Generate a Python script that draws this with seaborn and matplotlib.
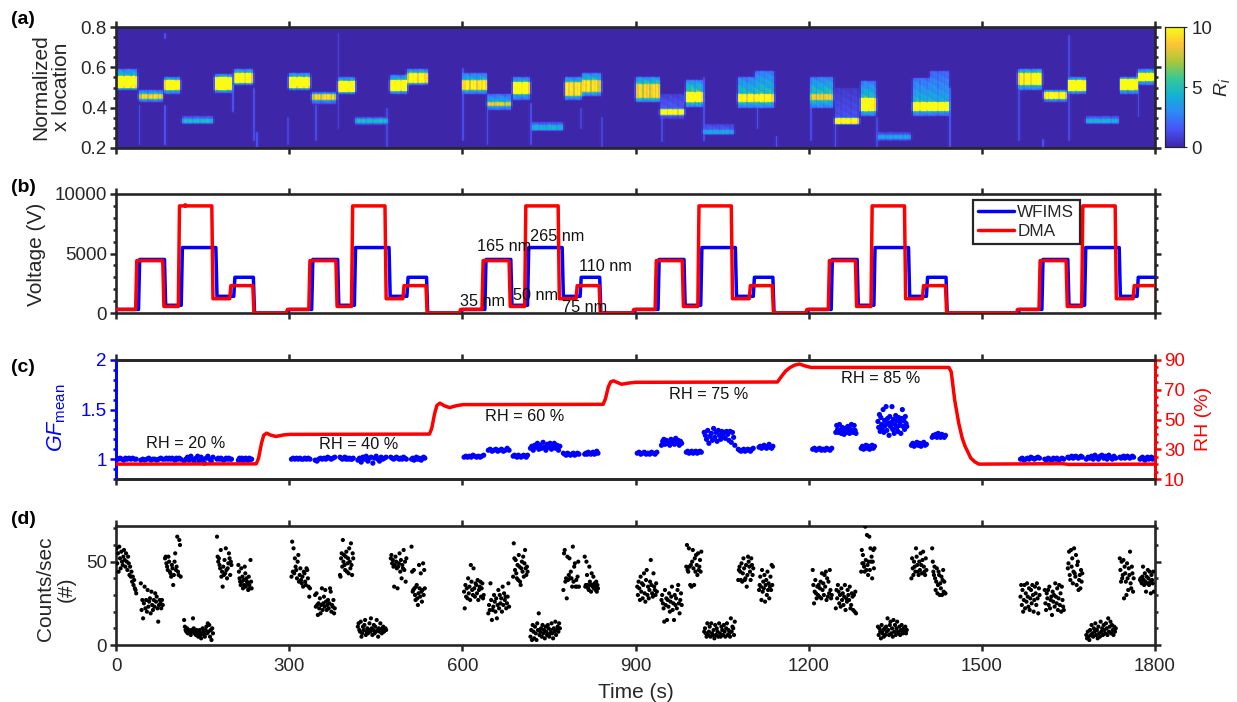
import numpy as np
import pandas as pd
import seaborn as sns
import matplotlib.pyplot as plt
from matplotlib.colors import LinearSegmentedColormap
from matplotlib.lines import Line2D

sns.set_theme(style='ticks')
plt.rcParams['font.family'] = ['Liberation Sans', 'DejaVu Sans']
plt.rcParams['mathtext.fontset'] = 'custom'
plt.rcParams['mathtext.rm'] = 'Liberation Sans'
plt.rcParams['mathtext.it'] = 'Liberation Sans:italic'

DARK = '#262626'
BLUE = '#0000ff'
RED = '#ff0000'

time_ticks = [0, 300, 600, 900, 1200, 1500, 1800]
cycle_start = [0, 300, 600, 900, 1200, 1565]

# (a) one row per cycle, six size steps in each
block_start = [0, 40, 84, 115, 172, 204,
               300, 341, 385, 416, 475, 506,
               601, 644, 687, 720, 777, 808,
               901, 944, 987, 1018, 1077, 1109,
               1203, 1245, 1290, 1320, 1380, 1410,
               1565, 1608, 1652, 1682, 1741, 1772]
block_end = [37, 81, 112, 170, 203, 238,
             338, 383, 415, 473, 505, 540,
             642, 685, 717, 774, 807, 841,
             942, 985, 1017, 1073, 1109, 1142,
             1244, 1287, 1318, 1378, 1410, 1444,
             1605, 1649, 1680, 1738, 1770, 1800]
band_lo = [.49, .43, .47, .32, .475, .51,
           .49, .42, .47, .315, .47, .51,
           .47, .39, .44, .285, .44, .46,
           .43, .345, .405, .265, .40, .40,
           .40, .32, .36, .235, .36, .36,
           .49, .43, .47, .32, .47, .51]
band_hi = [.59, .49, .55, .36, .565, .59,
           .57, .48, .55, .355, .56, .59,
           .57, .47, .55, .33, .55, .57,
           .55, .47, .535, .32, .55, .58,
           .55, .50, .53, .28, .545, .58,
           .59, .49, .55, .36, .55, .59]
core_lo = [.50, .445, .49, .325, .49, .52,
           .50, .44, .48, .325, .485, .52,
           .49, .41, .47, .29, .46, .48,
           .45, .365, .43, .27, .43, .43,
           .44, .32, .385, .245, .385, .385,
           .51, .445, .485, .325, .49, .53]
core_hi = [.55, .47, .53, .34, .545, .57,
           .545, .465, .525, .34, .53, .57,
           .53, .43, .52, .31, .52, .53,
           .51, .39, .48, .29, .465, .465,
           .47, .345, .445, .26, .43, .43,
           .57, .48, .53, .34, .535, .57]
block_peak = [14, 10, 14, 5.5, 14, 13,
              14, 10, 14, 5.5, 13.5, 12,
              11, 9.5, 13.5, 5, 10.5, 10.5,
              10, 12, 14, 4.5, 12, 12,
              9.5, 13, 14, 4.5, 13.5, 13.5,
              12, 12.5, 14, 5, 14, 14]
block_halo = [4.5, 3.5, 4, 2, 4, 4,
              4.5, 3, 4, 2, 4, 4,
              4, 3.5, 4, 2, 4, 4.5,
              5, 1.5, 5, 1.5, 4.5, 4.5,
              4.5, 1.2, 4.5, 1.5, 4, 3.5,
              4.5, 3.5, 4, 2, 4, 4]

# faint vertical streaks under the bands
streak_time = [39, 84, 84, 202, 237, 245, 299, 345, 385, 470, 600, 642, 717, 806, 842,
               945, 1017, 1110, 1144, 1203, 1245, 1246, 1318, 1445, 1565, 1605, 1650, 1770]
streak_lo = [.22, .22, .74, .38, .24, .21, .22, .24, .30, .21, .24, .22, .22, .30, .21,
             .23, .24, .30, .21, .24, .22, .21, .21, .21, .24, .21, .24, .36]
streak_hi = [.42, .42, .77, .51, .50, .28, .36, .42, .77, .40, .60, .40, .43, .40, .36,
             .43, .55, .44, .26, .50, .32, .28, .36, .50, .50, .25, .76, .50]
streak_val = [1.6, 1.8, 1.6, 1.8, 1.6, 1.8, 1.2, 1.5, 1.2, 1.4, 1.6, 1.7, 1.6, 1.2, 1.2,
              1.4, 1.6, 1.8, 2, 1.6, 2, 2, 1.4, 1.8, 1.4, 1.7, 1.4, 1.6]

pattern_cols = [1, .8, 1, .95, .68, 1, .85, 1, .72, .92]
pattern_rows = [1, .55, .85, .4, .95, .6, .75]

# (b) steps inside one cycle, seconds after cycle start
wfims_offset = [-2, 39, 84, 113, 173, 204, 238]
wfims_volt = [300, 4500, 650, 5500, 1400, 3000, 0]
dma_offset = [-5, 34, 81, 108, 166, 197, 237]
dma_volt = [300, 4400, 550, 9000, 1200, 2300, 0]

size_labels = ['35 nm', '165 nm', '50 nm', '265 nm', '75 nm', '110 nm']
size_label_t = [596, 625, 688, 717, 773, 802]
size_label_v = [1000, 5550, 1430, 6470, 500, 3870]

# (c) relative humidity trace
rh_time = [0, 243, 247, 252, 256, 261, 268, 277, 290, 301, 543, 547, 552, 556, 561, 569, 578, 590, 601,
           844, 848, 853, 857, 862, 869, 876, 888, 900, 1146, 1152, 1160, 1168, 1176, 1184, 1194, 1204,
           1443, 1447, 1453, 1460, 1466, 1471, 1481, 1488, 1495, 1640, 1650, 1800]
rh_value = [20, 20.2, 24, 34, 39.5, 40.8, 39.5, 38.6, 39.6, 40, 40.2, 44, 54, 59.5, 61, 59.2, 58, 59.3, 60,
            60.2, 64, 72, 75.3, 76, 74.8, 73.7, 74.5, 75, 75.2, 78.5, 82.5, 85, 86.6, 87.3, 86, 85,
            85, 82, 63, 47.5, 37.5, 32, 24, 21.5, 20, 20.3, 19.8, 20]

rh_labels = ['RH = 20 %', 'RH = 40 %', 'RH = 60 %', 'RH = 75 %', 'RH = 85 %']
rh_label_t = [52, 352, 640, 958, 1256]
rh_label_gf = [1.16, 1.15, 1.43, 1.65, 1.81]

# (c), (d) start and end of each measured cluster
scat_start = [1, 43, 85, 118, 175, 212,
              304, 345, 388, 419, 476, 512,
              603, 645, 688, 718, 775, 812,
              903, 945, 988, 1019, 1078, 1114,
              1207, 1247, 1291, 1320, 1378, 1414,
              1567, 1609, 1649, 1681, 1739, 1774]
scat_end = [35, 81, 112, 168, 200, 235,
            336, 379, 411, 468, 503, 535,
            637, 681, 713, 769, 802, 835,
            937, 980, 1014, 1072, 1104, 1138,
            1240, 1282, 1314, 1370, 1404, 1437,
            1600, 1642, 1674, 1732, 1763, 1798]

gf_cycle1 = [[1.01, 1.0, 1.01, 1.0, .99, 1.01, 1.0, 1.01, 1.0, 1.01, 1.0, 1.0],
             [.99, 1.0, .99, 1.0, 1.01, .99, 1.0, 1.0, .99, 1.0, 1.01, 1.0],
             [1.0, 1.01, 1.0, 1.01, 1.0, 1.01, 1.0, .99, 1.01, 1.0, 1.01, 1.0],
             [.98, 1.0, 1.02, .99, 1.03, 1.0, .97, 1.01, 1.03, .98, 1.02, 1.0, .96, 1.01, 1.03, 1.0, .98, 1.02],
             [1.0, 1.01, 1.0, 1.01, 1.0, .99, 1.0, 1.01, 1.0, 1.01, 1.0, 1.0],
             [.99, 1.01, 1.0, 1.01, .98, 1.0, 1.01, 1.0, .99, 1.01, 1.0, 1.0]]
gf_cycle2 = [[1.0, 1.01, 1.0, 1.01, 1.0, 1.01, 1.0, 1.0, 1.01, 1.0, 1.01, 1.0],
             [.99, .98, 1.0, 1.01, 1.0, 1.01, 1.0, 1.02, 1.01, 1.0, 1.01, 1.02],
             [1.02, 1.01, 1.0, 1.01, 1.02, 1.0, 1.01, 1.0, 1.01, 1.0, 1.0, 1.01],
             [.99, 1.01, .97, 1.02, 1.0, 1.03, .98, 1.01, 1.02, .96, 1.01, 1.03, 1.0, .98, 1.02, 1.0, 1.01, 1.02],
             [1.02, 1.01, 1.0, 1.01, 1.02, 1.01, 1.0, 1.01, 1.0, 1.02, 1.01, 1.0],
             [1.0, 1.01, .99, 1.0, 1.02, 1.0, 1.01, 1.0, .99, 1.01, 1.02, 1.01]]
gf_cycle3 = [[1.02, 1.03, 1.02, 1.03, 1.02, 1.04, 1.03, 1.02, 1.03, 1.02, 1.03, 1.04],
             [1.09, 1.1, 1.08, 1.09, 1.1, 1.08, 1.09, 1.1, 1.08, 1.09, 1.11, 1.09],
             [1.03, 1.04, 1.03, 1.02, 1.04, 1.03, 1.02, 1.03, 1.04, 1.03, 1.02, 1.04],
             [1.11, 1.13, 1.09, 1.14, 1.12, 1.16, 1.1, 1.14, 1.11, 1.17, 1.12, 1.09, 1.15, 1.12, 1.16, 1.1, 1.13, 1.16, 1.11, 1.14, 1.09, 1.13],
             [1.06, 1.05, 1.04, 1.06, 1.05, 1.04, 1.05, 1.06, 1.04, 1.05, 1.06, 1.05],
             [1.05, 1.06, 1.05, 1.07, 1.06, 1.05, 1.06, 1.07, 1.05, 1.06, 1.08, 1.06]]
gf_cycle4 = [[1.06, 1.07, 1.05, 1.06, 1.07, 1.05, 1.06, 1.05, 1.07, 1.06, 1.05, 1.07],
             [1.14, 1.18, 1.2, 1.15, 1.19, 1.16, 1.18, 1.14, 1.2, 1.16, 1.19, 1.15, 1.21, 1.17, 1.19, 1.14, 1.18, 1.16],
             [1.07, 1.08, 1.06, 1.07, 1.08, 1.06, 1.07, 1.08, 1.06, 1.07, 1.08, 1.07],
             [1.27, 1.24, 1.2, 1.29, 1.16, 1.23, 1.26, 1.19, 1.31, 1.22, 1.27, 1.18, 1.29, 1.24, 1.2, 1.28, 1.23, 1.27, 1.21, 1.28, 1.25, 1.19, 1.28, 1.17, 1.27, 1.22, 1.14],
             [1.1, 1.09, 1.08, 1.09, 1.1, 1.08, 1.09, 1.1, 1.09, 1.08, 1.1, 1.11],
             [1.12, 1.13, 1.11, 1.12, 1.14, 1.12, 1.11, 1.13, 1.15, 1.12, 1.11, 1.13]]
gf_cycle5 = [[1.1, 1.11, 1.09, 1.1, 1.11, 1.09, 1.1, 1.09, 1.11, 1.1, 1.09, 1.11],
             [1.27, 1.34, 1.3, 1.27, 1.35, 1.29, 1.26, 1.32, 1.28, 1.25, 1.31, 1.29, 1.27, 1.33, 1.28, 1.26, 1.3, 1.35, 1.29, 1.27, 1.34, 1.29, 1.26],
             [1.11, 1.13, 1.1, 1.12, 1.14, 1.11, 1.13, 1.1, 1.12, 1.14, 1.11, 1.13],
             [1.38, 1.32, 1.45, 1.28, 1.42, 1.35, 1.31, 1.5, 1.27, 1.39, 1.34, 1.53, 1.29, 1.41, 1.36, 1.24, 1.43, 1.33, 1.37, 1.53, 1.3, 1.4, 1.26, 1.35, 1.44, 1.31, 1.39, 1.28, 1.42, 1.34, 1.37, 1.26, 1.41, 1.5, 1.33, 1.39, 1.3, 1.43, 1.36, 1.33],
             [1.14, 1.16, 1.13, 1.15, 1.17, 1.14, 1.16, 1.13, 1.15, 1.17, 1.14, 1.15],
             [1.22, 1.24, 1.23, 1.25, 1.22, 1.26, 1.24, 1.22, 1.25, 1.23, 1.22, 1.24]]
gf_cycle6 = [[1.0, 1.01, .99, 1.0, 1.01, 1.0, 1.02, 1.01, 1.0, 1.01, 1.02, 1.01],
             [1.0, .99, 1.01, 1.0, .99, 1.01, 1.0, 1.01, .99, 1.0, 1.01, 1.0],
             [1.02, 1.01, 1.02, 1.03, 1.01, 1.02, 1.03, 1.02, 1.01, 1.02, 1.03, 1.02],
             [1.0, 1.02, 1.01, 1.03, 1.0, 1.04, 1.02, 1.0, 1.03, 1.04, 1.01, 1.03, 1.0, 1.04, 1.02, 1.0, 1.03, 1.01],
             [1.02, 1.01, 1.02, 1.03, 1.01, 1.02, 1.03, 1.02, 1.01, 1.02, 1.03, 1.02],
             [1.0, 1.01, 1.02, 1.0, .99, 1.01, 1.02, 1.0, 1.01, 1.02, 1.0, 1.01]]

counts_cycle1 = [[58, 49, 55, 44, 59, 52, 46, 56, 50, 48, 53, 57, 51, 47, 55, 50, 45, 53, 49, 42, 47, 41, 44, 38, 41, 36, 39, 34, 33, 31],
                 [37, 21, 27, 16, 25, 35, 22, 27, 20, 33, 23, 26, 28, 19, 32, 24, 21, 27, 23, 31, 26, 29, 22, 14, 24, 27, 25, 22, 27, 24],
                 [52, 53, 49, 47, 45, 53, 50, 44, 43, 41, 48, 46, 36, 42, 50, 55, 45, 47, 65, 44, 42, 63, 60, 41],
                 [15, 11, 9, 8, 10, 7, 9, 8, 7, 6, 9, 8, 16, 10, 7, 8, 6, 9, 7, 5, 8, 9, 6, 4, 7, 10, 8, 6, 5, 9, 11, 7, 13, 8, 12, 5, 9, 3, 10, 7],
                 [65, 53, 50, 52, 48, 46, 57, 41, 44, 35, 47, 42, 51, 43, 58, 45, 40, 46, 49, 55, 52, 42, 50, 48],
                 [48, 44, 40, 38, 36, 46, 38, 41, 34, 39, 36, 47, 43, 35, 40, 38, 37, 33, 41, 36, 34, 51, 38, 34]]
counts_cycle2 = [[41, 62, 44, 58, 43, 52, 47, 45, 40, 50, 54, 38, 42, 46, 39, 37, 41, 35, 44, 43, 38, 36, 46, 45, 40, 35, 29, 34],
                 [30, 23, 31, 24, 18, 25, 22, 28, 19, 24, 34, 21, 25, 29, 23, 33, 26, 21, 24, 27, 22, 25, 34, 32, 20, 24, 23, 27, 19, 22],
                 [42, 41, 52, 55, 47, 63, 50, 54, 48, 45, 53, 56, 44, 49, 52, 43, 58, 50, 46, 61, 48, 42, 55, 52],
                 [11, 13, 9, 8, 14, 5, 7, 11, 9, 12, 15, 6, 8, 10, 7, 9, 13, 8, 16, 10, 6, 9, 12, 7, 11, 8, 15, 9, 5, 10, 8, 13, 9, 7, 10, 11, 8, 9, 10, 9],
                 [52, 54, 49, 51, 47, 35, 48, 53, 50, 46, 34, 47, 49, 55, 44, 51, 40, 48, 46, 57, 45, 50, 38, 52],
                 [59, 44, 32, 33, 45, 34, 30, 27, 35, 36, 28, 24, 31, 48, 34, 29, 43, 32, 26, 33, 49, 30, 45, 34]]
counts_cycle3 = [[32, 22, 36, 29, 34, 28, 40, 31, 35, 27, 48, 38, 33, 30, 46, 34, 29, 37, 36, 31, 39, 27, 33, 35, 38, 29, 34, 37, 28, 30],
                 [19, 24, 21, 37, 27, 15, 21, 23, 30, 26, 20, 28, 16, 24, 33, 22, 30, 25, 28, 20, 35, 24, 31, 27, 29, 22, 25, 29, 37, 23],
                 [41, 61, 52, 45, 51, 43, 40, 48, 39, 54, 47, 38, 36, 46, 50, 44, 53, 41, 49, 57, 46, 42, 47, 44],
                 [5, 9, 3, 12, 8, 4, 11, 7, 3, 13, 9, 19, 6, 8, 10, 5, 12, 7, 9, 4, 11, 8, 6, 12, 10, 5, 7, 9, 13, 7, 4, 10, 8, 14, 6, 9, 11, 8, 13, 10],
                 [33, 55, 57, 38, 40, 28, 53, 39, 42, 52, 40, 44, 40, 35, 59, 38, 47, 49, 35, 39, 35, 41, 50, 35],
                 [53, 35, 36, 50, 42, 36, 34, 33, 47, 38, 36, 32, 43, 36, 35, 41, 34, 37, 35, 33, 38, 32, 36, 34]]
counts_cycle4 = [[35, 30, 38, 34, 27, 41, 32, 37, 28, 36, 43, 31, 26, 39, 45, 30, 35, 28, 33, 38, 51, 36, 31, 29, 43, 35, 33, 30, 37, 32],
                 [27, 30, 25, 22, 14, 33, 24, 28, 15, 27, 23, 31, 20, 26, 29, 35, 21, 25, 15, 30, 24, 28, 22, 33, 36, 25, 19, 27, 31, 24],
                 [47, 60, 45, 44, 58, 47, 36, 48, 35, 50, 57, 46, 36, 52, 44, 54, 48, 42, 55, 45, 47, 51, 44, 56],
                 [8, 10, 7, 5, 13, 6, 8, 11, 5, 13, 7, 6, 9, 4, 12, 6, 10, 8, 5, 13, 7, 5, 11, 9, 6, 12, 8, 5, 10, 13, 6, 9, 7, 5, 16, 8, 11, 10, 6, 14],
                 [39, 45, 47, 44, 39, 49, 38, 43, 52, 46, 39, 40, 48, 35, 42, 53, 50, 47, 44, 39, 52, 48, 42, 46],
                 [33, 36, 41, 35, 27, 45, 32, 38, 34, 42, 26, 36, 39, 30, 44, 33, 37, 28, 35, 41, 33, 48, 36, 47]]
counts_cycle5 = [[45, 36, 25, 32, 39, 31, 28, 35, 30, 36, 29, 34, 38, 28, 43, 33, 37, 30, 42, 35, 44, 27, 40, 29, 38, 31, 45, 33, 28, 30],
                 [22, 33, 28, 36, 32, 25, 30, 23, 34, 27, 31, 24, 29, 36, 21, 28, 26, 33, 30, 27, 35, 22, 24, 31, 29, 21, 30, 20, 32, 19],
                 [44, 57, 49, 54, 49, 47, 44, 71, 51, 45, 66, 48, 42, 50, 65, 45, 58, 50, 53, 40, 50, 57, 46, 58],
                 [11, 6, 10, 8, 4, 12, 7, 9, 5, 10, 6, 11, 8, 16, 9, 6, 12, 14, 7, 10, 5, 15, 8, 12, 6, 10, 14, 8, 7, 11, 6, 9, 12, 8, 7, 10, 8, 11, 7, 9],
                 [40, 52, 46, 42, 50, 47, 44, 58, 53, 48, 44, 42, 50, 45, 55, 48, 43, 51, 56, 47, 44, 42, 52, 45],
                 [58, 50, 44, 42, 47, 40, 33, 38, 46, 31, 36, 44, 42, 30, 37, 34, 41, 30, 39, 45, 32, 38, 31, 31]]
counts_cycle6 = [[29, 36, 24, 33, 20, 27, 36, 22, 31, 26, 37, 29, 23, 34, 21, 28, 33, 25, 36, 30, 20, 27, 35, 31, 24, 37, 28, 19, 34, 30],
                 [33, 25, 21, 31, 28, 33, 24, 35, 22, 27, 29, 18, 32, 26, 30, 23, 37, 29, 25, 34, 21, 28, 36, 24, 31, 20, 35, 27, 23, 21],
                 [46, 49, 56, 42, 39, 57, 47, 52, 37, 44, 58, 43, 41, 54, 36, 48, 50, 33, 39, 42, 34, 45, 38, 43],
                 [6, 4, 8, 5, 3, 9, 6, 12, 7, 5, 10, 8, 13, 6, 9, 4, 11, 7, 5, 14, 8, 10, 6, 12, 9, 7, 13, 10, 6, 16, 8, 11, 14, 7, 12, 9, 6, 11, 8, 10],
                 [52, 45, 38, 50, 40, 42, 51, 28, 47, 43, 38, 30, 49, 40, 33, 46, 42, 56, 37, 34, 47, 43, 32, 40],
                 [39, 40, 38, 37, 41, 47, 39, 36, 43, 38, 32, 41, 37, 45, 40, 36, 44, 38, 31, 42, 39, 37, 44, 32]]


def expand_clusters(cycles):
    t_all, v_all = [], []
    flat = [block for cycle in cycles for block in cycle]
    for start, end, vals in zip(scat_start, scat_end, flat):
        t_all.extend(np.linspace(start, end, len(vals)))
        v_all.extend(vals)
    return pd.DataFrame({'t': t_all, 'v': v_all})


def step_trace(offsets, volts):
    xs, ys = [], []
    prev = volts[-1]
    for c in cycle_start:
        for off, v in zip(offsets, volts):
            xs += [c + off, c + off + 2]
            ys += [prev, v]
            prev = v
    xs.append(1810)
    ys.append(prev)
    return pd.DataFrame({'t': xs, 'v': ys})


def style_panel(ax, color=DARK):
    for side in ax.spines:
        ax.spines[side].set_visible(True)
        ax.spines[side].set_linewidth(1.9)
        ax.spines[side].set_color(DARK)
    ax.tick_params(axis='x', which='major', direction='out', top=True, bottom=True, length=4.5, width=1.8,
                   color=DARK, labelbottom=False, labelsize=13.5, labelcolor=DARK)
    ax.tick_params(axis='y', which='major', direction='out', left=True, right=True, length=4.5, width=1.8,
                   color=DARK, labelsize=13.5, labelcolor=DARK, pad=2)
    ax.tick_params(axis='y', which='minor', direction='out', left=True, right=True, length=2.5, width=1.8, color=DARK)


W, H = 1237, 702
fig = plt.figure(figsize=(W / 100, H / 100), dpi=100)


def panel(top, bottom):
    return fig.add_axes([116 / W, 1 - bottom / H, 1039 / W, (bottom - top) / H])


# ---------- (a) heat map ----------
dt, dx = 3.0, 0.005
n_cols, n_rows = 600, 120
grid = np.zeros((n_rows, n_cols))
for t0, t1, lo, hi, clo, chi, peak, halo in zip(block_start, block_end, band_lo, band_hi, core_lo, core_hi, block_peak, block_halo):
    for col in range(int(t0 / dt), min(int(t1 / dt), n_cols)):
        for row in range(int(round((lo - .2) / dx)), int(round((hi - .2) / dx))):
            x_loc = .2 + row * dx
            c_pat = pattern_cols[col % len(pattern_cols)]
            r_pat = pattern_rows[(row + col) % len(pattern_rows)]
            if clo <= x_loc <= chi:
                grid[row, col] = peak * c_pat * (.85 + .15 * r_pat)
            else:
                edge = (clo - x_loc) / max(clo - lo, dx) if x_loc < clo else (x_loc - chi) / max(hi - chi, dx)
                grid[row, col] = halo * c_pat * r_pat * (1.7 - .9 * edge)
for t0, lo, hi, val in zip(streak_time, streak_lo, streak_hi, streak_val):
    col = int(t0 / dt)
    for row in range(int((lo - .2) / dx), int((hi - .2) / dx)):
        grid[row, col] = max(grid[row, col], val)
# the printed map is soft, so spread each cell into its neighbours
soft_rows = [.2, .6, .2]
soft_cols = [.12, .76, .12]
grid = np.apply_along_axis(lambda r: np.convolve(r, soft_rows, mode='same'), 0, grid)
grid = np.apply_along_axis(lambda r: np.convolve(r, soft_cols, mode='same'), 1, grid)

parula = LinearSegmentedColormap.from_list('parula', ['#3e26a8', '#4852f4', '#2e87f7', '#12b1d6', '#37c897',
                                                      '#abc739', '#fec338', '#f9fb14'])
ax_a = panel(27, 148)
cax = fig.add_axes([1164.5 / W, 1 - 147 / H, 19.5 / W, 120 / H])
sns.heatmap(grid, ax=ax_a, cbar_ax=cax, cmap=parula, vmin=0, vmax=10, xticklabels=False, yticklabels=False,
            cbar_kws={'ticks': [0, 5, 10]})
ax_a.set_xlim(0, n_cols)
ax_a.set_ylim(0, n_rows)
ax_a.set_xticks(np.array(time_ticks) / dt)
ax_a.set_yticks((np.array([.2, .4, .6, .8]) - .2) / dx)
ax_a.set_yticklabels(['0.2', '0.4', '0.6', '0.8'])
ax_a.set_yticks((np.arange(.2, .81, .05) - .2) / dx, minor=True)
ax_a.set_xlabel('')
ax_a.set_ylabel('')
style_panel(ax_a)
ax_a.tick_params(axis='y', labelrotation=0)
cax.tick_params(length=2.5, width=.8, labelsize=13.5, labelcolor=DARK, color=DARK, pad=3, right=True)
for side in cax.spines:
    cax.spines[side].set_visible(True)
    cax.spines[side].set_linewidth(.8)
    cax.spines[side].set_color(DARK)

# ---------- (b) voltages ----------
ax_b = panel(194, 313)
wfims = step_trace(wfims_offset, wfims_volt)
dma = step_trace(dma_offset, dma_volt)
sns.lineplot(data=wfims, x='t', y='v', ax=ax_b, color=BLUE, lw=2.5, estimator=None, sort=False, zorder=3)
sns.lineplot(data=dma, x='t', y='v', ax=ax_b, color=RED, lw=2.5, estimator=None, sort=False, zorder=3.1)
sns.scatterplot(x=[120], y=[9030], ax=ax_b, color=RED, s=12, edgecolor='none', zorder=3.2)
ax_b.set_xlim(0, 1800)
ax_b.set_ylim(0, 10000)
ax_b.set_xticks(time_ticks)
ax_b.set_yticks([0, 5000, 10000])
ax_b.set_yticks(np.arange(0, 10001, 1000), minor=True)
ax_b.set_xlabel('')
ax_b.set_ylabel('')
style_panel(ax_b)
for lab, t, v in zip(size_labels, size_label_t, size_label_v):
    ax_b.text(t, v, lab, fontsize=11.7, color='#111111', va='center', ha='left', zorder=5)
handles = [Line2D([], [], color=BLUE, lw=2.5), Line2D([], [], color=RED, lw=2.5)]
leg = ax_b.legend(handles, ['WFIMS', 'DMA'], loc='upper left', bbox_to_anchor=((973 - 116) / 1039, 1 - (200 - 194) / 119),
                  borderaxespad=0, fontsize=12.3, frameon=True, fancybox=False, framealpha=1, edgecolor=DARK,
                  labelspacing=.2, handlelength=2.1, handletextpad=.2, borderpad=.3)
leg.get_frame().set_linewidth(1.6)
leg.set_zorder(6)

# ---------- (c) growth factor and RH ----------
ax_c = panel(360, 479)
gf = expand_clusters([gf_cycle1, gf_cycle2, gf_cycle3, gf_cycle4, gf_cycle5, gf_cycle6])
sns.scatterplot(data=gf, x='t', y='v', ax=ax_c, color=BLUE, s=14, edgecolor='none', zorder=3)
ax_c.set_xlim(0, 1800)
ax_c.set_ylim(.8, 2)
ax_c.set_xticks(time_ticks)
ax_c.set_yticks([1, 1.5, 2])
ax_c.set_yticklabels(['1', '1.5', '2'])
ax_c.set_yticks(np.arange(.8, 2.01, .1), minor=True)
ax_c.set_xlabel('')
ax_c.set_ylabel('')
style_panel(ax_c)
ax_c.tick_params(axis='y', which='both', right=False, color=BLUE, labelcolor=BLUE)
ax_c.spines['left'].set_color(BLUE)
for lab, t, v in zip(rh_labels, rh_label_t, rh_label_gf):
    ax_c.text(t, v, lab, fontsize=11.7, color='#111111', va='center', ha='left', zorder=5)

ax_rh = ax_c.twinx()
sns.lineplot(x=rh_time, y=rh_value, ax=ax_rh, color=RED, lw=2.5, estimator=None, sort=False, zorder=4)
ax_rh.set_xlim(0, 1800)
ax_rh.set_ylim(10, 90)
ax_rh.set_yticks([10, 30, 50, 70, 90])
ax_rh.set_yticks(np.arange(10, 91, 5), minor=True)
ax_rh.set_ylabel('')
for side in ax_rh.spines:
    ax_rh.spines[side].set_linewidth(1.9)
    ax_rh.spines[side].set_color(DARK)
ax_rh.spines['left'].set_color(BLUE)
ax_rh.spines['right'].set_color(RED)
ax_rh.tick_params(axis='y', which='major', direction='out', right=True, left=False, length=4.5, width=1.8,
                  color=RED, labelcolor=RED, labelsize=13.5, pad=2)
ax_rh.tick_params(axis='y', which='minor', direction='out', right=True, left=False, length=2.5, width=1.8, color=RED)

# ---------- (d) counts ----------
ax_d = panel(526, 645)
counts = expand_clusters([counts_cycle1, counts_cycle2, counts_cycle3, counts_cycle4, counts_cycle5, counts_cycle6])
sns.scatterplot(data=counts, x='t', y='v', ax=ax_d, color='black', s=9, edgecolor='none', zorder=3)
ax_d.set_xlim(0, 1800)
ax_d.set_ylim(0, 71.4)
ax_d.set_xticks(time_ticks)
ax_d.set_yticks([0, 50])
ax_d.set_yticks(np.arange(0, 71, 10), minor=True)
ax_d.set_xlabel('')
ax_d.set_ylabel('')
style_panel(ax_d)
ax_d.tick_params(axis='x', labelbottom=True, pad=5)

# ---------- text outside the axes ----------
def px_text(x, y, s, **kw):
    fig.text(x / W, 1 - y / H, s, ha=kw.pop('ha', 'center'), va=kw.pop('va', 'center'), **kw)


for lab, y in zip(['(a)', '(b)', '(c)', '(d)'], [20, 187, 368, 520]):
    px_text(11, y, lab, ha='left', fontsize=14, fontweight='bold', color='black')
px_text(51, 87, 'Normalized\nx location', rotation=90, fontsize=15, color=DARK, linespacing=1.1)
px_text(37, 254, 'Voltage (V)', rotation=90, fontsize=15, color=DARK)
px_text(57, 418, r'$\mathit{GF}_{\mathrm{mean}}$', rotation=90, fontsize=15.5, color=BLUE)
px_text(56, 589, 'Counts/sec\n(#)', rotation=90, fontsize=15, color=DARK, linespacing=1.1)
px_text(636, 692, 'Time (s)', fontsize=15, color=DARK)
px_text(1222, 87, r'$\mathit{R}_{\mathit{i}}$', rotation=90, fontsize=14, color=DARK)
px_text(1203, 419, 'RH (%)', rotation=90, fontsize=14, color=RED)

fig.savefig('out.png', dpi=100)
